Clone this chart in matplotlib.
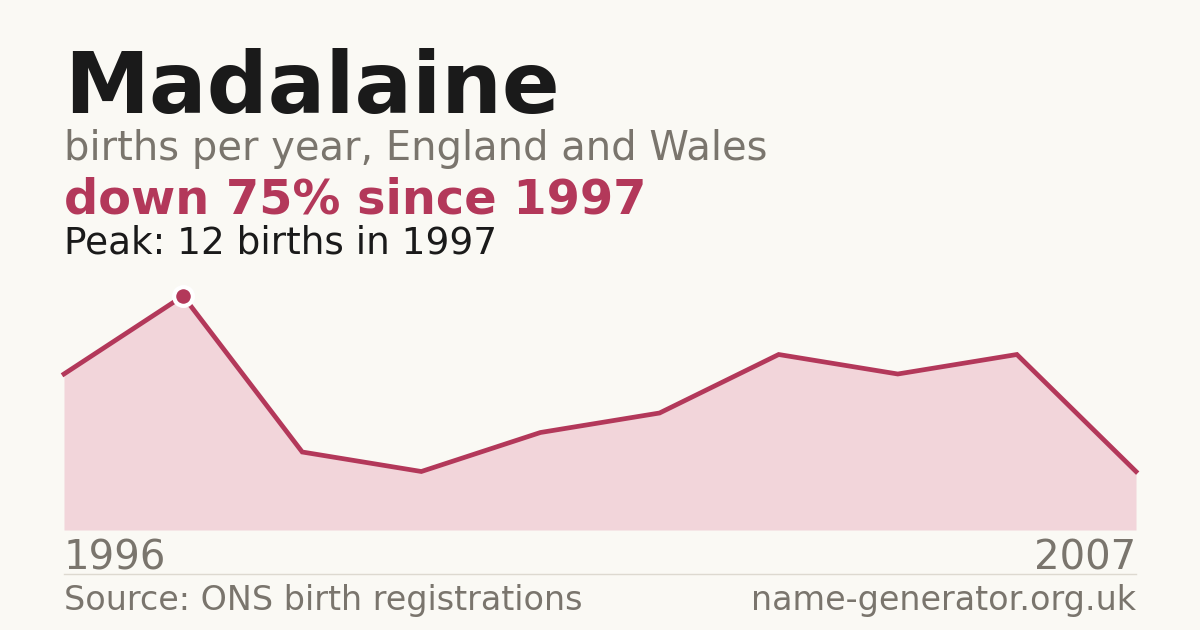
import matplotlib
matplotlib.use("Agg")
import matplotlib.pyplot as plt
import matplotlib.transforms as mtransforms

plt.rcParams["font.family"] = ["DejaVu Sans"]

# data (evenly spaced points, first 1996 / last 2007)
births = [8, 12, 4, 3, 5, 6, 9, 8, 9, 3]
end_labels = ["1996", "2007"]
peak_idx = 1

name = "Madalaine"
subtitle = "births per year, England and Wales"
headline = "down 75% since 1997"
peak_text = "Peak: 12 births in 1997"
source = "Source: ONS birth registrations"
site = "name-generator.org.uk"

BG = "#faf9f4"
RED = "#b3385a"
FILL = "#f2d5da"
GREY = "#7a756d"
DARK = "#1a1a1a"

W, H = 1200, 630
fig = plt.figure(figsize=(12, 6.3), dpi=100, facecolor=BG)

def fy(py):
    return 1 - py / H

# axes: x 64..1136 px, y 0 at 530 px, 12 at 296 px
ax = fig.add_axes([64 / W, fy(530), (1136 - 64) / W, (530 - 296) / H])
ax.set_facecolor("none")
xs = list(range(len(births)))
ax.fill_between(xs, births, 0, color=FILL, lw=0)
ax.plot(xs, births, color=RED, lw=3.4, solid_joinstyle="miter", clip_on=False)
ax.plot(xs[peak_idx], births[peak_idx], "o", ms=13.5, color=RED, mec="white", mew=3,
        clip_on=False, zorder=5)
ax.set_xlim(0, len(births) - 1)
ax.set_ylim(0, max(births))
ax.axis("off")

# header
fig.text(64 / W, fy(113), name, fontsize=61.5, fontweight="bold", color=DARK, va="baseline")
fig.text(64 / W, fy(160), subtitle, fontsize=28.8, color=GREY, va="baseline")
fig.text(64 / W, fy(214), headline, fontsize=34.5, fontweight="bold", color=RED, va="baseline")
fig.text(64 / W, fy(254), peak_text, fontsize=26.9, color=DARK, va="baseline")

# end year labels
tr = mtransforms.blended_transform_factory(ax.transData, fig.transFigure)
ax.text(xs[0], fy(570), end_labels[0], transform=tr, fontsize=29, color=GREY,
        ha="left", va="baseline")
ax.text(xs[-1], fy(570), end_labels[1], transform=tr, fontsize=29, color=GREY,
        ha="right", va="baseline")

# separator + footer
fig.add_artist(plt.Line2D([64 / W, 1136 / W], [fy(574), fy(574)], color="#ddd9d0", lw=1))
fig.text(64 / W, fy(610), source, fontsize=24, color=GREY, va="baseline")
fig.text(1136 / W, fy(610), site, fontsize=24, color=GREY, va="baseline", ha="right")

fig.savefig("out.png", dpi=100, facecolor=BG)
